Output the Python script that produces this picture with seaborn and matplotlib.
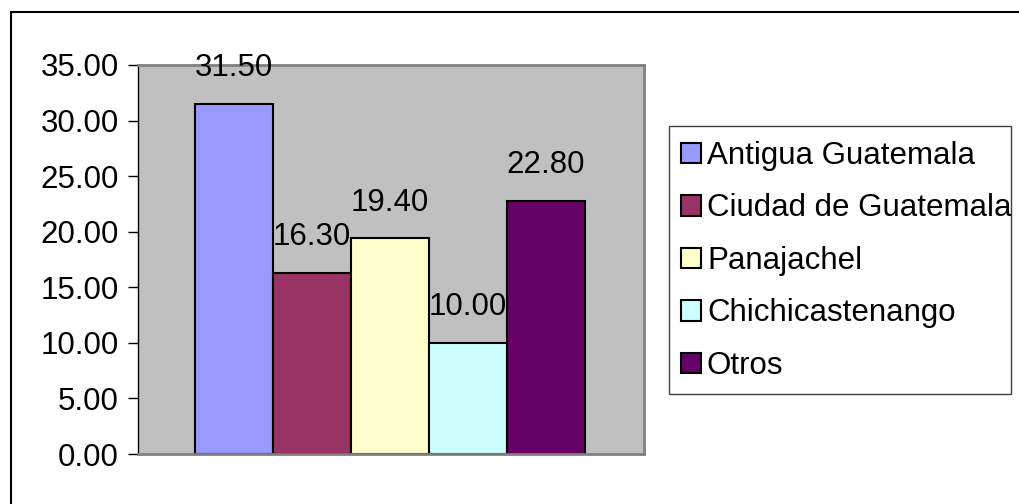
import matplotlib
matplotlib.use("Agg")
import matplotlib.pyplot as plt
from matplotlib.patches import Rectangle
import seaborn as sns
import pandas as pd

# data
destinos = ["Antigua Guatemala", "Ciudad de Guatemala", "Panajachel",
            "Chichicastenango", "Otros"]
porcentajes = [31.50, 16.30, 19.40, 10.00, 22.80]
colores = ["#9999FF", "#993366", "#FFFFCC", "#CCFFFF", "#660066"]
yticks = [0, 5, 10, 15, 20, 25, 30, 35]

df = pd.DataFrame({"destino": destinos, "pct": porcentajes})

sns.set_style("white")
plt.rcParams['font.family'] = ['Liberation Sans', 'DejaVu Sans']
plt.rcParams['text.color'] = 'black'
plt.rcParams['ytick.color'] = 'black'
plt.rcParams['ytick.labelcolor'] = 'black'
fs = 22.5

W, H = 1019, 504
fig = plt.figure(figsize=(W / 100, H / 100), dpi=100)
ax = fig.add_axes([138 / W, 1 - 454 / H, 506 / W, 389 / H])

sns.barplot(data=df, x="destino", y="pct", hue="destino", order=destinos,
            hue_order=destinos, palette=colores, width=1.0, dodge=False,
            edgecolor="black", linewidth=1.5, saturation=1, legend=True, ax=ax)

ax.set_facecolor("#C0C0C0")
ax.set_ylim(0, 35)
ax.set_xlim(-1.23, 5.26)
ax.set_yticks(yticks)
ax.set_yticklabels([f"{v:.2f}" for v in yticks], fontsize=fs, color="black")
ax.set_xticks([])
ax.set_xlabel("")
ax.set_ylabel("")
ax.tick_params(axis="y", length=7, width=1, color="black", pad=7, left=True)

for side in ["top", "right", "bottom"]:
    ax.spines[side].set_color("#808080")
    ax.spines[side].set_linewidth(2)
ax.spines["left"].set_color("black")
ax.spines["left"].set_linewidth(1)

for cont in ax.containers:
    ax.bar_label(cont, fmt="%.2f", fontsize=fs, padding=15, color="black")

handles, labels = ax.get_legend_handles_labels()
ax.get_legend().remove()
leg = fig.legend(handles, labels, loc="upper left",
                 bbox_to_anchor=(681 / W, 1 - 141 / H),
                 fontsize=fs, frameon=False,
                 handlelength=0.64, handleheight=0.64, handletextpad=0.19,
                 labelspacing=0.72, borderpad=0, borderaxespad=0)
for t in leg.get_texts():
    t.set_color("black")
for h in leg.legend_handles:
    h.set_edgecolor("black")
    h.set_linewidth(1.5)

# legend frame
fig.add_artist(Rectangle((669 / W, 1 - 394 / H), 342 / W, 268 / H,
                         transform=fig.transFigure, fill=False,
                         edgecolor="#404040", linewidth=1))

# outer chart border
fig.add_artist(Rectangle((11 / W, -0.1), 1.2, 1 - 12 / H + 0.1,
                         transform=fig.transFigure, fill=False,
                         edgecolor="black", linewidth=1.5))

fig.savefig("out.png", dpi=100)
